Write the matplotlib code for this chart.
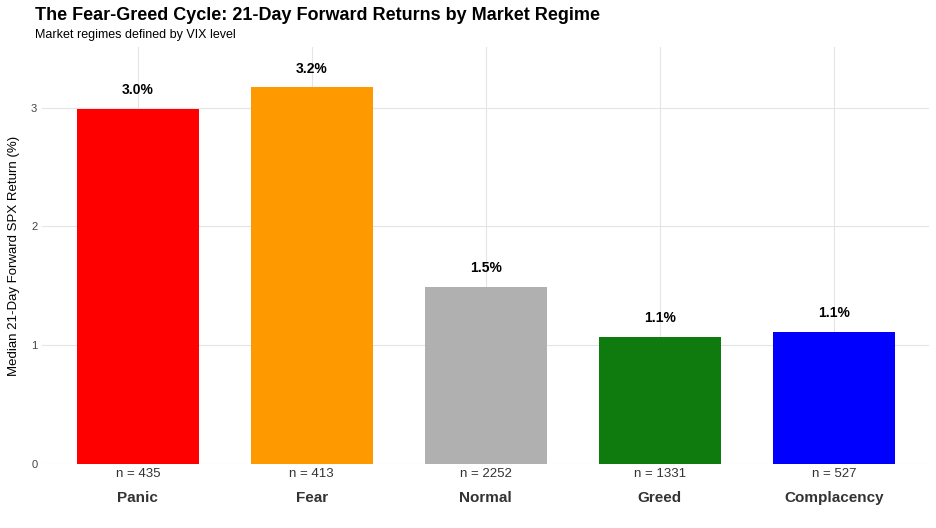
import matplotlib
matplotlib.use("Agg")
import matplotlib.pyplot as plt

categories = ["Panic", "Fear", "Normal", "Greed", "Complacency"]
values = [2.99, 3.17, 1.49, 1.07, 1.11]
counts = [435, 413, 2252, 1331, 527]
colors = ["#FF0000", "#FF9900", "#B0B0B0", "#0F7B0F", "#0000FF"]

plt.rcParams['font.family'] = ['Liberation Sans', 'DejaVu Sans']
fig = plt.figure(figsize=(9.36, 5.28), dpi=100)
ax = fig.add_axes([0.045, 0.121, 0.948, 0.79])
x = range(len(categories))
ax.bar(x, values, width=0.7, color=colors, zorder=2)
for i, v in enumerate(values):
    ax.text(i, v + 0.1, f"{v:.1f}%", ha="center", va="bottom", fontsize=10, fontweight="bold")
    ax.text(i, -0.03, f"n = {counts[i]}", ha="center", va="top", fontsize=9.5, color="#333333")
ax.set_xticks(list(x))
ax.set_xticklabels(categories, fontsize=11, fontweight="bold", color="#333333")
ax.tick_params(axis="x", length=0, pad=19)
ax.tick_params(axis="y", length=0, labelsize=8, colors="#444444")
ax.set_yticks([0, 1, 2, 3])
ax.set_xlim(-0.55, 4.55)
ax.set_ylim(0, 3.51)
ax.grid(True, color="#E5E5E5", linewidth=0.8, zorder=0)
for s in ax.spines.values():
    s.set_visible(False)
ax.set_ylabel("Median 21-Day Forward SPX Return (%)", fontsize=9.5, labelpad=8)
fig.text(0.037, 0.97, "The Fear-Greed Cycle: 21-Day Forward Returns by Market Regime",
         fontsize=13, fontweight="bold", va="center")
fig.text(0.037, 0.934, "Market regimes defined by VIX level", fontsize=9, va="center")
fig.savefig("out.png", dpi=100)
